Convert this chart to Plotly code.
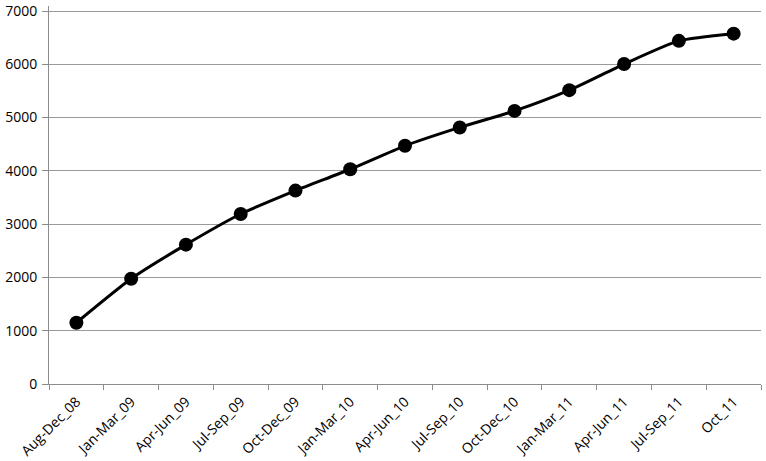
import plotly.graph_objects as go

periods = ["Aug-Dec_08", "Jan-Mar_09", "Apr-Jun_09", "Jul-Sep_09", "Oct-Dec_09",
           "Jan-Mar_10", "Apr-Jun_10", "Jul-Sep_10", "Oct-Dec_10",
           "Jan-Mar_11", "Apr-Jun_11", "Jul-Sep_11", "Oct_11"]
totals = [1150, 1975, 2615, 3190, 3630, 4030, 4470, 4815, 5125, 5515, 6005, 6440, 6575]

y_ticks = [0, 1000, 2000, 3000, 4000, 5000, 6000, 7000]

fig = go.Figure(data=[
    go.Scatter(x=periods, y=totals, mode="lines+markers",
               line=dict(color="black", width=3, shape="spline", smoothing=0.6),
               marker=dict(color="black", size=14))
])

fig.update_layout(
    width=766,
    height=461,
    margin=dict(l=49, r=5, t=6, b=77),
    paper_bgcolor="white",
    plot_bgcolor="white",
    showlegend=False,
    font=dict(family="Open Sans", size=14, color="black")
)
fig.update_xaxes(
    type="category",
    range=[-0.5, len(periods) - 0.5],
    tickangle=-45,
    automargin=False,
    showgrid=False,
    showline=True,
    linecolor="#8c8c8c",
    linewidth=1,
    ticks="outside",
    tickson="boundaries",
    ticklen=5,
    tickcolor="#8c8c8c",
    ticklabelstandoff=3,
    tickfont=dict(size=14)
)
# a little headroom above 7000 so the top gridline is kept
fig.update_yaxes(
    range=[0, 7094],
    tickvals=y_ticks,
    automargin=False,
    ticklabeloverflow="allow",
    showgrid=True,
    gridcolor="#9a9a9a",
    gridwidth=1,
    showline=True,
    linecolor="#8c8c8c",
    linewidth=1,
    ticks="outside",
    ticklen=6,
    tickcolor="#8c8c8c",
    ticklabelstandoff=2,
    zeroline=False,
    tickfont=dict(size=14)
)

# page body has an 8px default margin, remove it so the figure sits at 0,0
fig.write_html("out.html", config={"displayModeBar": False},
               post_script="document.body.style.margin='0';")
